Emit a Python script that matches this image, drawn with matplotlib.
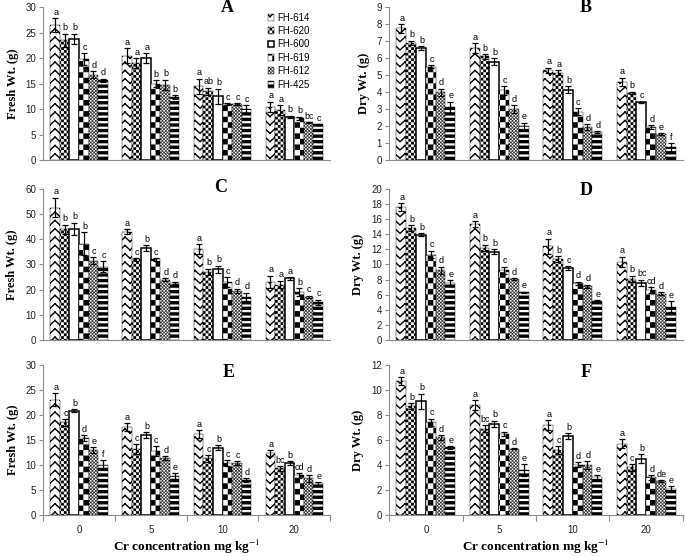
import warnings

import numpy as np
import matplotlib

matplotlib.use("Agg")
import matplotlib.pyplot as plt  # noqa
from matplotlib import hatch as mhatch
from matplotlib.path import Path

# custom hatch letters ('z', 'c', 'h') trigger a deprecation warning only
warnings.filterwarnings("ignore")

doses = ["0", "5", "10", "20"]
cultivars = ["FH-614", "FH-620", "FH-600", "FH-619", "FH-612", "FH-425"]

# one row per Cr dose, one column per cultivar
a_mean = [[26.5, 23.5, 23.8, 19.8, 16.8, 15.7],
          [20.5, 19.0, 20.0, 15.0, 14.8, 12.4],
          [14.5, 13.5, 12.5, 11.0, 11.0, 10.0],
          [10.5, 9.8, 8.5, 8.2, 7.4, 7.0]]
a_err = [[1.4, 1.3, 1.0, 1.2, 0.7, 0.3],
         [1.5, 1.0, 1.0, 0.7, 1.0, 0.4],
         [1.5, 0.7, 1.5, 0.2, 0.2, 0.8],
         [1.0, 1.0, 0.2, 0.3, 0.1, 0.1]]
a_letters = [["a", "b", "b", "c", "d", "d"],
             ["a", "a", "a", "b", "b", "b"],
             ["a", "ab", "b", "c", "c", "c"],
             ["a", "a", "b", "b", "bc", "c"]]

b_mean = [[7.75, 6.9, 6.6, 5.5, 4.0, 3.1],
          [6.6, 6.1, 5.8, 4.1, 3.0, 2.0],
          [5.3, 5.15, 4.15, 2.85, 1.95, 1.65],
          [4.6, 3.95, 3.4, 1.95, 1.55, 0.75]]
b_err = [[0.25, 0.12, 0.12, 0.1, 0.2, 0.35],
         [0.3, 0.12, 0.2, 0.25, 0.25, 0.2],
         [0.15, 0.15, 0.2, 0.2, 0.15, 0.05],
         [0.25, 0.08, 0.05, 0.1, 0.05, 0.25]]
b_letters = [["a", "b", "b", "c", "d", "e"],
             ["a", "b", "b", "c", "d", "e"],
             ["a", "a", "b", "c", "d", "d"],
             ["a", "b", "c", "d", "e", "f"]]

c_mean = [[52.5, 44.0, 44.0, 38.2, 31.5, 29.0],
          [43.0, 32.0, 36.5, 32.0, 24.0, 22.8],
          [36.0, 27.0, 28.0, 23.0, 19.5, 17.0],
          [23.0, 22.0, 24.5, 19.0, 17.0, 15.0]]
c_err = [[3.9, 1.8, 2.5, 4.5, 1.3, 2.2],
         [1.0, 0.5, 1.0, 0.5, 0.5, 0.4],
         [2.0, 1.3, 1.5, 2.0, 0.8, 1.7],
         [2.5, 1.5, 0.5, 1.5, 0.5, 1.0]]
c_letters = [["a", "b", "b", "b", "c", "c"],
             ["a", "c", "b", "c", "d", "d"],
             ["a", "b", "b", "c", "d", "d"],
             ["a", "a", "a", "b", "c", "c"]]

d_mean = [[17.6, 14.8, 13.9, 11.3, 9.2, 7.5],
          [15.3, 12.2, 11.7, 9.2, 8.1, 6.3],
          [12.4, 10.7, 9.5, 7.5, 7.1, 5.2],
          [10.3, 8.1, 7.6, 6.6, 6.1, 4.4]]
d_err = [[0.5, 0.35, 0.2, 0.5, 0.5, 0.4],
         [0.4, 0.4, 0.3, 0.5, 0.1, 0.1],
         [1.0, 0.4, 0.3, 0.2, 0.2, 0.1],
         [0.7, 0.4, 0.4, 0.4, 0.2, 0.7]]
d_letters = [["a", "b", "b", "c", "d", "e"],
             ["a", "b", "b", "c", "d", "e"],
             ["a", "b", "c", "d", "d", "e"],
             ["a", "b", "bc", "cd", "d", "e"]]

e_mean = [[23.0, 18.5, 20.8, 15.3, 12.9, 10.0],
          [17.6, 13.2, 15.9, 12.8, 11.3, 7.7],
          [16.2, 11.3, 13.4, 10.3, 10.3, 7.0],
          [12.3, 9.3, 10.3, 7.9, 7.3, 6.3]]
e_err = [[1.3, 0.7, 0.3, 0.6, 0.6, 0.9],
         [0.8, 1.0, 0.6, 1.0, 0.4, 0.6],
         [0.8, 0.7, 0.5, 0.6, 0.4, 0.4],
         [0.6, 0.5, 0.4, 0.5, 0.7, 0.3]]
e_letters = [["a", "c", "b", "d", "e", "f"],
             ["a", "c", "b", "c", "d", "e"],
             ["a", "c", "b", "c", "c", "d"],
             ["a", "bc", "b", "cd", "d", "e"]]

f_mean = [[10.7, 8.7, 9.1, 7.4, 6.2, 5.4],
          [8.8, 6.9, 7.3, 6.5, 5.3, 3.6],
          [7.2, 5.2, 6.3, 4.0, 4.0, 3.0],
          [5.7, 3.8, 4.5, 3.0, 2.7, 2.1]]
f_err = [[0.3, 0.25, 0.6, 0.3, 0.2, 0.1],
         [0.4, 0.3, 0.25, 0.15, 0.05, 0.45],
         [0.4, 0.3, 0.25, 0.2, 0.3, 0.2],
         [0.35, 0.25, 0.35, 0.2, 0.1, 0.2]]
f_letters = [["a", "b", "b", "c", "d", "e"],
             ["a", "bc", "b", "c", "d", "e"],
             ["a", "c", "b", "d", "d", "e"],
             ["a", "c", "b", "d", "de", "e"]]

plt.rcParams["hatch.linewidth"] = 1.0
plt.rcParams["font.family"] = ["Liberation Sans", "DejaVu Sans"]
plt.rcParams["mathtext.fontset"] = "stix"
SERIF = ["Liberation Serif", "DejaVu Serif"]
SPINE = "#8c8c8c"


def _stroke_units():
    "Hatch stroke width in hatch-tile units (one tile is 72 pt)."
    return plt.rcParams["hatch.linewidth"] / 72.0


class ZigZagHatch(mhatch.HatchPatternBase):
    """
    Rows of chevron zigzags, one row per 'z' and density step.

    Every segment is its own sub-path so that Agg's fill pass of the hatch
    path has zero area and only the strokes show.
    """

    def __init__(self, hatch, density):
        self.num_rows = hatch.count("z") * density
        self.num_seg = 20
        self.num_vertices = (self.num_rows + 2) * self.num_seg * 2 if self.num_rows else 0

    def set_vertices_and_codes(self, vertices, codes):
        xs = np.linspace(0.0, 1.0, self.num_seg + 1)
        amp = 0.55 / self.num_rows
        k = 0
        for i in range(self.num_rows + 2):
            y0 = (i - 1) / self.num_rows
            ys = y0 + amp * (np.arange(self.num_seg + 1) % 2)
            for s in range(self.num_seg):
                vertices[k] = (xs[s], ys[s])
                vertices[k + 1] = (xs[s + 1], ys[s + 1])
                codes[k] = Path.MOVETO
                codes[k + 1] = Path.LINETO
                k += 2


class CheckerHatch(mhatch.HatchPatternBase):
    "Filled checkerboard squares, cell count set by the number of 'c'."

    def __init__(self, hatch, density):
        self.num_cells = hatch.count("c") * density
        self.num_vertices = (self.num_cells ** 2 // 2) * 5

    def set_vertices_and_codes(self, vertices, codes):
        cell = 1.0 / self.num_cells
        side = max(cell - _stroke_units(), cell * 0.08)
        pad = (cell - side) / 2
        k = 0
        for i in range(self.num_cells):
            for j in range(self.num_cells):
                if (i + j) % 2:
                    continue
                x0, y0 = i * cell + pad, j * cell + pad
                vertices[k:k + 5] = [(x0, y0), (x0 + side, y0), (x0 + side, y0 + side),
                                     (x0, y0 + side), (x0, y0)]
                codes[k:k + 5] = [Path.MOVETO, Path.LINETO, Path.LINETO,
                                  Path.LINETO, Path.CLOSEPOLY]
                k += 5


class BandHatch(mhatch.HatchPatternBase):
    "Thick horizontal stripes, one stripe per 'h' and density step."

    def __init__(self, hatch, density):
        self.num_bands = hatch.count("h") * density
        self.num_vertices = self.num_bands * 5

    def set_vertices_and_codes(self, vertices, codes):
        step = 1.0 / self.num_bands
        thick = max(0.6 * step - _stroke_units(), 0.05 * step)
        for i in range(self.num_bands):
            yc = (i + 0.5) * step
            y0, y1 = yc - thick / 2, yc + thick / 2
            k = i * 5
            vertices[k:k + 5] = [(-0.1, y0), (1.1, y0), (1.1, y1), (-0.1, y1), (-0.1, y0)]
            codes[k:k + 5] = [Path.MOVETO, Path.LINETO, Path.LINETO,
                              Path.LINETO, Path.CLOSEPOLY]


mhatch._hatch_types.extend([ZigZagHatch, CheckerHatch, BandHatch])

BAR_STYLES = [
    dict(facecolor="white", edgecolor="black", hatch="zz", linewidth=0.3),
    dict(facecolor="white", edgecolor="black", hatch="cccccc", linewidth=0.3),
    dict(facecolor="white", edgecolor="black", linewidth=1.1),
    dict(facecolor="white", edgecolor="black", hatch="ccc", linewidth=0.3),
    dict(facecolor="white", edgecolor="black", hatch="cccccccccc", linewidth=0.3),
    dict(facecolor="white", edgecolor="black", hatch="hhh", linewidth=0.3),
]


def draw_panel(ax, means, errs, letters, ymax, ystep, ylabel, tag, tag_xy, bottom_row):
    means = np.asarray(means)
    errs = np.asarray(errs)
    x = np.arange(len(doses))
    width = 0.8 / len(cultivars)
    for j, name in enumerate(cultivars):
        pos = x - 0.4 + width * (j + 0.5)
        ax.bar(pos, means[:, j], width, yerr=errs[:, j], label=name,
               error_kw=dict(ecolor="black", elinewidth=0.9, capsize=2.0,
                             capthick=0.9, zorder=3),
               **BAR_STYLES[j])
        for k in range(len(doses)):
            ax.annotate(letters[k][j], (pos[k], means[k, j] + errs[k, j]),
                        xytext=(0.5, 1.0), textcoords="offset points",
                        ha="center", va="bottom", fontsize=6.5, zorder=4)

    ax.set_xlim(-0.5, len(doses) - 0.5)
    ax.set_ylim(0, ymax)
    ax.set_yticks(np.arange(0, ymax + ystep / 2, ystep))
    for side in ("top", "right"):
        ax.spines[side].set_visible(False)
    for side in ("left", "bottom"):
        ax.spines[side].set_color(SPINE)
        ax.spines[side].set_linewidth(0.8)
    ax.tick_params(axis="y", length=3, width=0.8, color=SPINE, labelsize=7,
                   labelcolor="#222222", pad=2)
    if bottom_row:
        ax.set_xticks(x)
        ax.set_xticklabels(doses)
        ax.set_xticks(np.arange(-0.5, len(doses), 1.0), minor=True)
        ax.tick_params(axis="x", which="major", length=0, labelsize=7,
                       labelcolor="#222222", pad=7)
        ax.tick_params(axis="x", which="minor", length=4, width=0.8, color=SPINE)
        ax.set_xlabel("Cr concentration mg kg$^{-1}$", family=SERIF,
                      fontweight="bold", fontsize=9.5, labelpad=2)
    else:
        ax.set_xticks([])
    ax.set_ylabel(ylabel, family=SERIF, fontweight="bold", fontsize=9, labelpad=5)
    ax.text(tag_xy[0], tag_xy[1], tag, transform=ax.transAxes, ha="center",
            va="center", family=SERIF, fontweight="bold", fontsize=13)


fig = plt.figure(figsize=(6.85, 5.56), dpi=100)
left_x, left_w = 0.063, 0.419
right_x, right_w = 0.568, 0.429
rows = [(0.712, 0.275), (0.3885, 0.272), (0.0737, 0.270)]

ax_a = fig.add_axes([left_x, rows[0][0], left_w, rows[0][1]])
ax_b = fig.add_axes([right_x, rows[0][0], right_w, rows[0][1]])
ax_c = fig.add_axes([left_x, rows[1][0], left_w, rows[1][1]])
ax_d = fig.add_axes([right_x, rows[1][0], right_w, rows[1][1]])
ax_e = fig.add_axes([left_x, rows[2][0], left_w, rows[2][1]])
ax_f = fig.add_axes([right_x, rows[2][0], right_w, rows[2][1]])

draw_panel(ax_a, a_mean, a_err, a_letters, 30, 5, "Fresh Wt. (g)", "A", (0.64, 1.0), False)
draw_panel(ax_b, b_mean, b_err, b_letters, 9, 1, "Dry Wt. (g)", "B", (0.67, 1.0), False)
draw_panel(ax_c, c_mean, c_err, c_letters, 60, 10, "Fresh Wt. (g)", "C", (0.62, 1.01), False)
draw_panel(ax_d, d_mean, d_err, d_letters, 20, 2, "Dry Wt. (g)", "D", (0.67, 0.99), False)
draw_panel(ax_e, e_mean, e_err, e_letters, 30, 5, "Fresh Wt. (g)", "E", (0.645, 0.95), True)
draw_panel(ax_f, f_mean, f_err, f_letters, 12, 2, "Dry Wt. (g)", "F", (0.67, 0.95), True)

ax_a.legend(loc="upper left", bbox_to_anchor=(0.77, 0.99), frameon=False,
            fontsize=7, handlelength=0.6, handleheight=0.7, handletextpad=0.3,
            labelspacing=0.35, borderaxespad=0.0)

fig.savefig("out.png", dpi=100)
